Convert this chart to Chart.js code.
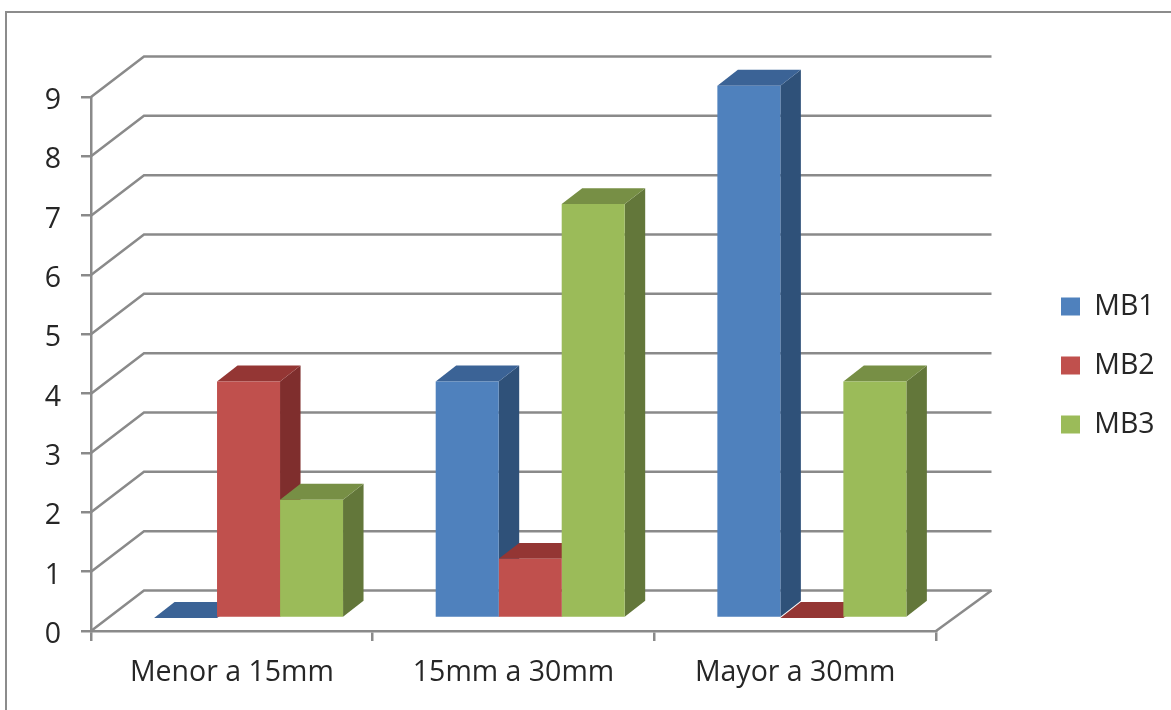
<!DOCTYPE html>
<html lang="es">
<head>
  <meta charset="UTF-8" />
  <title>MB1 MB2 MB3</title>
  <script src="https://cdn.jsdelivr.net/npm/chart.js"></script>
  <style>
    html, body { margin: 0; background: #fff; overflow: hidden; }
    #marco { position: absolute; left: 5px; top: 11px; right: -4px; bottom: -4px; border: 2px solid #8c8c8c; }
    #grafico { position: absolute; left: 0; top: 0; }
  </style>
</head>
<body>
  <div id="marco"></div>
  <canvas id="grafico" width="1171" height="710"></canvas>

  <script>
    const categorias = ["Menor a 15mm", "15mm a 30mm", "Mayor a 30mm"];
    const nombres = ["MB1", "MB2", "MB3"];
    const mb1 = [0, 4, 9];
    const mb2 = [4, 1, 0];
    const mb3 = [2, 7, 4];

    const frente = ["#4f81bd", "#c0504d", "#9bbb59"];
    const lateral = ["#2f5179", "#7f2e2d", "#63773a"];
    const tapa = ["#3b6396", "#943634", "#778f45"];

    const gris = "#8a8a8a";
    const grosor = 2.5;
    const fuente = { family: "Open Sans", size: 28.5 };

    // profundidad de la pared del fondo y plano donde se apoyan las barras
    const fondoIzq = 53, fondoDer = 55.5, fondoY = -40.5;
    const barraX = 16.7, barraY = -13, escalaBarra = 0.9966;
    const ladoX = 20.5, ladoY = -16;

    function poligono(ctx, color, puntos) {
      ctx.fillStyle = color;
      ctx.beginPath();
      puntos.forEach((p, i) => i ? ctx.lineTo(p[0], p[1]) : ctx.moveTo(p[0], p[1]));
      ctx.closePath();
      ctx.fill();
    }

    function planoBarras(chart) {
      const ctx = chart.ctx;
      const y0 = chart.scales.y.getPixelForValue(0);
      ctx.translate(barraX, y0 + barraY);
      ctx.scale(1, escalaBarra);
      ctx.translate(0, -y0);
    }

    const efecto3d = {
      id: "efecto3d",
      beforeInit(chart) {
        // reserva la columna de la leyenda
        const ajustar = chart.legend.fit;
        chart.legend.fit = function () {
          ajustar.call(this);
          this.width = 235;
        };
      },
      afterLayout(chart) {
        chart.legend.left = 1030.5;
        chart.legend.top = 21;
        chart.legend.bottom = 710;
      },
      beforeDatasetsDraw(chart) {
        const { ctx, chartArea, scales } = chart;
        ctx.save();
        ctx.strokeStyle = gris;
        ctx.lineWidth = grosor;
        // lineas de la pared: diagonal desde el eje y luego horizontal
        scales.y.ticks.forEach(t => {
          const y = scales.y.getPixelForValue(t.value);
          ctx.beginPath();
          ctx.moveTo(chartArea.left, y);
          ctx.lineTo(chartArea.left + fondoIzq, y + fondoY);
          ctx.lineTo(chartArea.right + fondoDer, y + fondoY);
          ctx.stroke();
        });
        // borde derecho del piso
        const y0 = scales.y.getPixelForValue(0);
        ctx.beginPath();
        ctx.moveTo(chartArea.right, y0);
        ctx.lineTo(chartArea.right + fondoDer, y0 + fondoY);
        ctx.stroke();
        ctx.restore();

        // caras laterales y tapas, de izquierda a derecha, antes de los frentes
        ctx.save();
        planoBarras(chart);
        chart.data.datasets.forEach((ds, i) => {
          chart.getDatasetMeta(i).data.forEach(barra => {
            const { x, y, base, width } = barra.getProps(["x", "y", "base", "width"], true);
            const izq = x - width / 2, der = x + width / 2;
            if (base > y) {
              poligono(ctx, lateral[i], [[der, y], [der + ladoX, y + ladoY], [der + ladoX, base + ladoY], [der, base]]);
            }
            poligono(ctx, tapa[i], [[izq, y], [izq + ladoX, y + ladoY], [der + ladoX, y + ladoY], [der, y]]);
          });
        });
        ctx.restore();
      },
      beforeDatasetDraw(chart) {
        chart.ctx.save();
        planoBarras(chart);
      },
      afterDatasetDraw(chart) {
        chart.ctx.restore();
      }
    };

    new Chart(document.getElementById("grafico").getContext("2d"), {
      type: "bar",
      data: {
        labels: categorias,
        datasets: [
          { label: nombres[0], data: mb1, backgroundColor: frente[0], clip: false },
          { label: nombres[1], data: mb2, backgroundColor: frente[1], clip: false },
          { label: nombres[2], data: mb3, backgroundColor: frente[2], clip: false }
        ]
      },
      plugins: [efecto3d],
      options: {
        responsive: false,
        animation: false,
        categoryPercentage: 0.671,
        barPercentage: 1,
        layout: { padding: { top: 97, bottom: 0, left: 0, right: 0 } },
        plugins: {
          tooltip: { enabled: false },
          legend: {
            position: "right",
            labels: {
              boxWidth: 19,
              boxHeight: 18,
              padding: 30.5,
              color: "#262626",
              font: fuente
            }
          }
        },
        scales: {
          x: {
            afterFit(escala) { escala.height = 79; },
            border: { color: gris, width: grosor },
            grid: { drawOnChartArea: false, drawTicks: true, tickLength: 10, color: gris, lineWidth: grosor },
            ticks: { color: "#262626", padding: 15, maxRotation: 0, font: fuente }
          },
          y: {
            min: 0,
            max: 9,
            afterFit(escala) { escala.width = 91; },
            border: { color: gris, width: grosor },
            grid: { drawOnChartArea: false, drawTicks: true, tickLength: 10, color: gris, lineWidth: grosor },
            ticks: { stepSize: 1, color: "#262626", padding: 20, labelOffset: 4, font: fuente }
          }
        }
      }
    });
  </script>
</body>
</html>
